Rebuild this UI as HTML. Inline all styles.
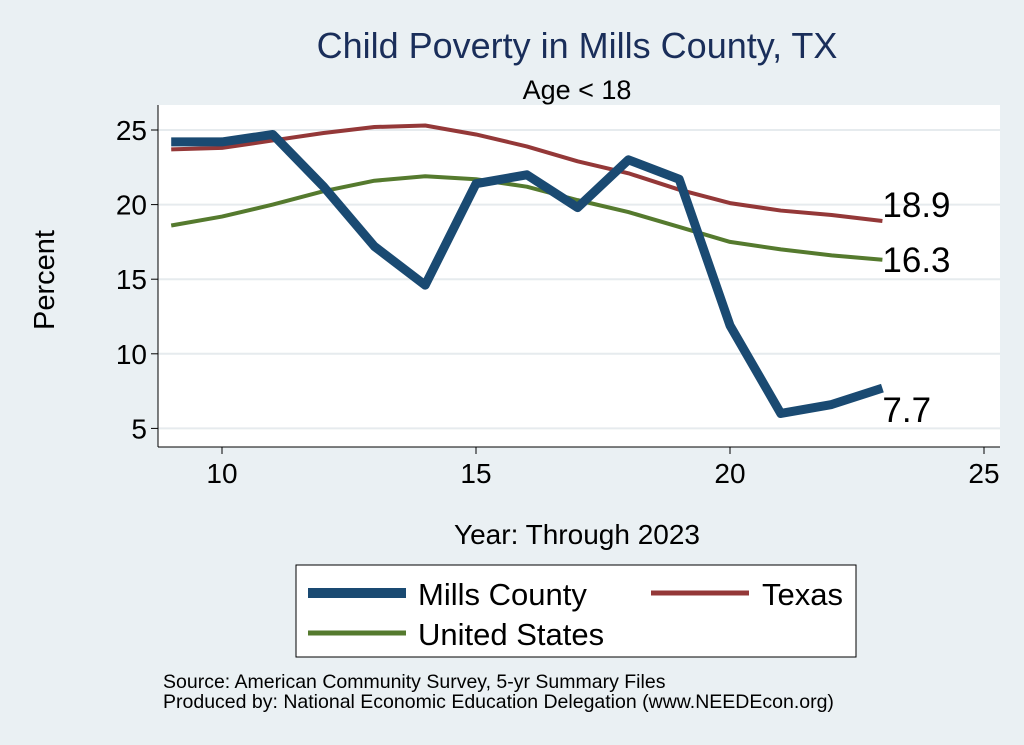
<!DOCTYPE html>
<html><head><meta charset="utf-8"><style>
body{margin:0;background:#eaf0f3;}
svg{display:block;font-family:"Liberation Sans",Arial,sans-serif;}
</style></head><body>
<svg id="chart" width="1024" height="745">
<rect width="1024" height="745" fill="#eaf0f3"/>
<text x="577" y="58" font-size="36" fill="#1a2e5a" text-anchor="middle">Child Poverty in Mills County, TX</text>
<text x="577" y="99" font-size="27" fill="#000" text-anchor="middle">Age &lt; 18</text>
<rect x="158" y="105" width="842" height="342" fill="#fff"/>
<g id="grid"></g>
<line x1="158" y1="105" x2="158" y2="447" stroke="#000" stroke-width="1"/>
<line x1="158" y1="447" x2="1000" y2="447" stroke="#000" stroke-width="1"/>
<g id="ticks"></g>
<g id="series"></g>
<text x="54" y="280" font-size="29" text-anchor="middle" transform="rotate(-90 54 280)">Percent</text>
<text x="577" y="544" font-size="28" text-anchor="middle">Year: Through 2023</text>
<g>
<rect x="296" y="565" width="560" height="92" fill="#fff" stroke="#000" stroke-width="1"/>
<line x1="308" y1="593" x2="406" y2="593" stroke="#1a4a72" stroke-width="10"/>
<text x="418" y="605" font-size="31">Mills County</text>
<line x1="651" y1="593" x2="749" y2="593" stroke="#943838" stroke-width="5"/>
<text x="762" y="605" font-size="31">Texas</text>
<line x1="308" y1="633" x2="406" y2="633" stroke="#557a2e" stroke-width="5"/>
<text x="418" y="645" font-size="31">United States</text>
</g>
<text x="163" y="688" font-size="19.5">Source: American Community Survey, 5-yr Summary Files</text>
<text x="163" y="708" font-size="19.5">Produced by: National Economic Education Delegation (www.NEEDEcon.org)</text>
</svg>
<script>
const years=[9,10,11,12,13,14,15,16,17,18,19,20,21,22,23];
const mills=[24.2,24.2,24.7,21.2,17.2,14.6,21.4,22.0,19.8,23.0,21.7,11.9,6.0,6.6,7.7];
const texas=[23.7,23.8,24.3,24.8,25.2,25.3,24.7,23.9,22.9,22.1,21.0,20.1,19.6,19.3,18.9];
const us=[18.6,19.2,20.0,20.9,21.6,21.9,21.7,21.2,20.3,19.5,18.5,17.5,17.0,16.6,16.3];
const xTicks=[10,15,20,25];
const yTicks=[5,10,15,20,25];
const NS="http://www.w3.org/2000/svg";
function xs(v){return 222+(v-10)*50.8;}
function ys(v){return 130+(25-v)*14.92;}
function mk(t,a,p){const e=document.createElementNS(NS,t);for(const k in a)e.setAttribute(k,a[k]);p.appendChild(e);return e;}
const grid=document.getElementById('grid'),ticks=document.getElementById('ticks'),ser=document.getElementById('series');
yTicks.forEach(v=>{
 const g=mk('line',{x1:158,x2:1000,y1:ys(v),y2:ys(v),stroke:'#e6ebee','stroke-width':2},grid);
 
 
 const t=mk('line',{x1:151,x2:158,y1:ys(v),y2:ys(v),stroke:'#000'},ticks);
 
 
 const l=mk('text',{x:147,y:ys(v)+10,'font-size':28,'text-anchor':'end'},ticks);l.textContent=v;
 
 
});
xTicks.forEach(v=>{
 const t=mk('line',{x1:xs(v),x2:xs(v),y1:447,y2:454,stroke:'#000'},ticks);
 
 
 const l=mk('text',{x:xs(v),y:483,'font-size':28,'text-anchor':'middle'},ticks);l.textContent=v;
 
 
});
function line(vals,color,w,name){
 const p=mk('polyline',{points:years.map((y,i)=>xs(y)+','+ys(vals[i])).join(' '),fill:'none',stroke:color,'stroke-width':w,'stroke-linejoin':'round'},ser);
 
 
}
line(us,'#557a2e',4,'line-united-states');
line(texas,'#943838',4,'line-texas');
line(mills,'#1a4a72',9,'line-mills-county');
const last=years.length-1;
[[texas,-4,'label-texas'],[us,12,'label-us'],[mills,34,'label-mills']].forEach(([v,dy,n])=>{
 const t=mk('text',{x:xs(years[last])+0,y:ys(v[last])+dy,'font-size':35},ser);
 t.textContent=v[last].toFixed(1);
 
 
});
</script>
</body></html>
